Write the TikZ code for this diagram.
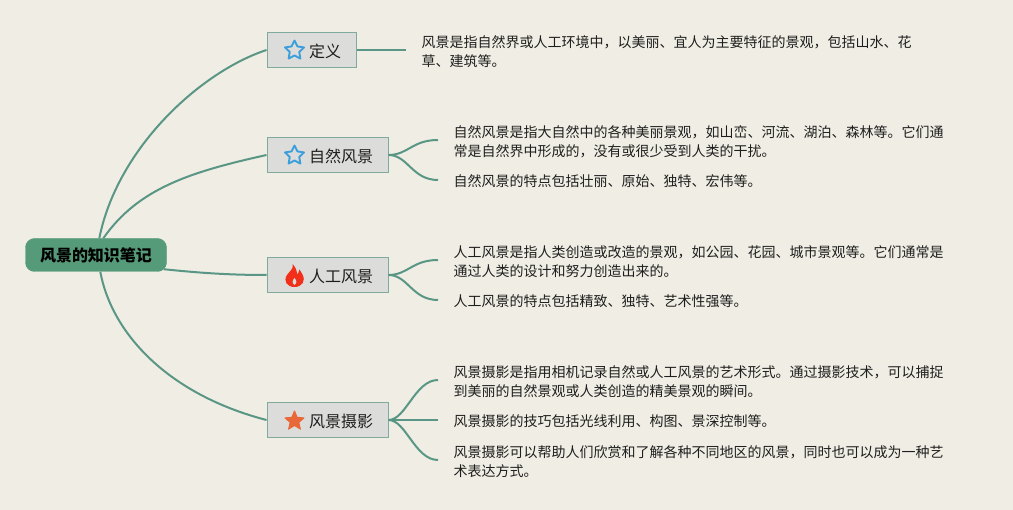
\documentclass[tikz,border=0pt]{standalone}
\usepackage{fontspec}
\setmainfont{Noto Sans CJK SC}
\usetikzlibrary{shapes.geometric}
\definecolor{bgc}{HTML}{F0EEE4}
\definecolor{linkc}{HTML}{5A9685}
\definecolor{rootc}{HTML}{559A79}
\definecolor{boxc}{HTML}{DCDDDB}
\definecolor{boxb}{HTML}{7FAB9E}
\definecolor{inkc}{HTML}{1E1E1E}
\definecolor{bluec}{HTML}{3C9FDC}
\definecolor{orangec}{HTML}{E8683A}
\definecolor{redc}{HTML}{F2301A}
\tikzset{
  x=1pt,y=-1pt,
  rootbox/.style={draw=rootc,fill=rootc,rounded corners=9pt,minimum width=141pt,minimum height=33pt,inner sep=0pt,text=black,font=\fontsize{16}{18}\selectfont\bfseries},
  topicbox/.style={draw=boxb,fill=boxc,line width=1pt,minimum height=35pt,inner sep=0pt,text=inkc,font=\fontsize{16}{18}\selectfont},
  toplabel/.style={text=inkc,font=\fontsize{16}{18}\selectfont},
  leaf/.style={anchor=west,inner ysep=0pt,inner xsep=15.5pt,align=left,text=inkc,font=\fontsize{14}{19.4}\selectfont},
  link/.style={draw=linkc,line width=2pt},
  bluestar/.style={star,star points=5,star point ratio=2.0,minimum size=20pt,inner sep=0pt,draw=bluec,line width=1.9pt,line join=round,fill=none},
  fullstar/.style={star,star points=5,star point ratio=2.2,minimum size=20pt,inner sep=0pt,draw=orangec,fill=orangec,line join=round,line width=1pt},
}
\begin{document}
\begin{tikzpicture}
\useasboundingbox (0,0) rectangle (1013,510);
\fill[bgc] (0,0) rectangle (1013,510);

\node[rootbox] (root) at (96,255) {风景的知识笔记};
\node[topicbox,minimum width=89pt] (t1) at (311.5,50) {};
\node[topicbox,minimum width=121pt] (t2) at (327.5,155) {};
\node[topicbox,minimum width=121pt] (t3) at (327.5,275) {};
\node[topicbox,minimum width=121pt] (t4) at (327.5,420) {};

\node[bluestar] (i1) at (294.5,50.5) {};
\node[bluestar] (i2) at (294.5,155.5) {};
\node[fullstar] (i4) at (294.5,421) {};
\fill[redc] (292.5,264) .. controls (294,269) and (289.5,271) .. (287,275)
  .. controls (283,281) and (287,287) .. (294.5,287)
  .. controls (302,287) and (306,281) .. (302.5,274.5)
  .. controls (301.5,272.5) and (300.5,271) .. (299.5,269.5)
  .. controls (299,272) and (298,273.5) .. (297,274.5)
  .. controls (297,270.5) and (295.5,267) .. (292.5,264) -- cycle;
\fill[boxc] (294.5,278) .. controls (292.5,280.5) and (291.5,283) .. (294.5,285)
  .. controls (297.5,283) and (296.5,280.5) .. (294.5,278) -- cycle;

\node[toplabel] (l1) at (325,51) {定义};
\node[toplabel] (l2) at (341,156) {自然风景};
\node[toplabel] (l3) at (341,276) {人工风景};
\node[toplabel] (l4) at (341,421) {风景摄影};

\node[leaf] (a1) at (406,51.5) {风景是指自然界或人工环境中，以美丽、宜人为主要特征的景观，包括山水、花\\草、建筑等。};
\node[leaf] (b1) at (438,141.5) {自然风景是指大自然中的各种美丽景观，如山峦、河流、湖泊、森林等。它们通\\常是自然界中形成的，没有或很少受到人类的干扰。};
\node[leaf] (b2) at (438,181.5) {自然风景的特点包括壮丽、原始、独特、宏伟等。};
\node[leaf] (c1) at (438,261.5) {人工风景是指人类创造或改造的景观，如公园、花园、城市景观等。它们通常是\\通过人类的设计和努力创造出来的。};
\node[leaf] (c2) at (438,301.5) {人工风景的特点包括精致、独特、艺术性强等。};
\node[leaf] (d1) at (438,381.5) {风景摄影是指用相机记录自然或人工风景的艺术形式。通过摄影技术，可以捕捉\\到美丽的自然景观或人类创造的精美景观的瞬间。};
\node[leaf] (d2) at (438,421.5) {风景摄影的技巧包括光线利用、构图、景深控制等。};
\node[leaf] (d3) at (438,461.5) {风景摄影可以帮助人们欣赏和了解各种不同地区的风景，同时也可以成为一种艺\\术表达方式。};

\draw[link] ([xshift=74pt]root.north west) .. controls +(18,-90) and (200,72) .. (t1.west);
\draw[link] ([xshift=78pt]root.north west) .. controls +(35,-50) and (190,172) .. (t2.west);
\draw[link] ([xshift=-3pt,yshift=2.5pt]root.south east) .. controls (200,273) and (230,275) .. (t3.west);
\draw[link] ([xshift=75pt]root.south west) .. controls (112,335) and (170,395) .. (t4.west);

\draw[link] (t1.east) -- (t1.east -| a1.west);
\draw[link] (t2.east) .. controls (408,155) and (412,140) .. ([yshift=1.5pt]b1.west);
\draw[link] (t2.east) .. controls (408,155) and (412,180) .. ([yshift=1.5pt]b2.west);
\draw[link] (t3.east) .. controls (408,275) and (412,260) .. ([yshift=1.5pt]c1.west);
\draw[link] (t3.east) .. controls (408,275) and (412,300) .. ([yshift=1.5pt]c2.west);
\draw[link] (t4.east) .. controls (406,420) and (415,380) .. ([yshift=1.5pt]d1.west);
\draw[link] (t4.east) -- (t4.east -| d2.west);
\draw[link] (t4.east) .. controls (406,420) and (415,460) .. ([yshift=1.5pt]d3.west);
\end{tikzpicture}
\end{document}
